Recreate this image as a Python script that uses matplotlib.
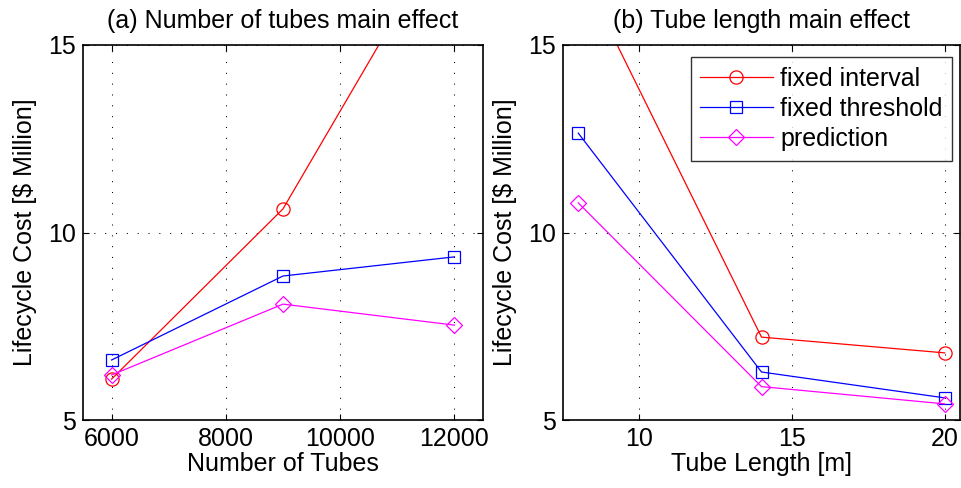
import matplotlib
matplotlib.use("Agg")
import matplotlib.pyplot as plt

plt.rcParams['font.family'] = ['Liberation Sans', 'DejaVu Sans']

# Data
tubes = [6000, 9000, 12000]
tubes_interval = [6.09, 10.63, 18.45]
tubes_threshold = [6.60, 8.84, 9.35]
tubes_prediction = [6.20, 8.09, 7.53]

lengths = [8, 14, 20]
len_interval = [17.1, 7.21, 6.79]
len_threshold = [12.65, 6.28, 5.59]
len_prediction = [10.79, 5.89, 5.43]

series_names = ['fixed interval', 'fixed threshold', 'prediction']
colors = ['#ff0000', '#0000ff', '#ff00ff']
markers = ['o', 's', 'D']
msizes = [9.5, 8, 8]

yticks = [5, 10, 15]
xticks_a = [6000, 8000, 10000, 12000]
xticks_b = [10, 15, 20]

FS = 18

W, H = 961, 488
fig = plt.figure(figsize=(W / 100, H / 100), dpi=100)
axa = fig.add_axes([83 / W, 68 / H, 400 / W, 375 / H])
axb = fig.add_axes([563 / W, 68 / H, 397 / W, 375 / H])

def style(ax):
    ax.set_ylim(5, 15)
    ax.set_yticks(yticks)
    ax.grid(True, linestyle=(0, (1, 9.4)), color='black', linewidth=0.75)
    ax.tick_params(direction='in', length=4, width=0.8, labelsize=FS,
                   top=True, right=True, pad=5)
    for s in ax.spines.values():
        s.set_linewidth(1.2)
    ax.set_ylabel('Lifecycle Cost [$ Million]', fontsize=FS, labelpad=8)

def draw(ax, x, ys):
    for vals, c, m, ms, n in zip(ys, colors, markers, msizes, series_names):
        ax.plot(x, vals, color=c, marker=m, markersize=ms,
                markerfacecolor='none', markeredgecolor=c, linewidth=0.9,
                markeredgewidth=0.9, label=n)

draw(axa, tubes, [tubes_interval, tubes_threshold, tubes_prediction])
axa.set_xlim(5500, 12500)
axa.set_xticks(xticks_a)
style(axa)
axa.set_xlabel('Number of Tubes', fontsize=FS, labelpad=1)
axa.set_title('(a) Number of tubes main effect', fontsize=FS, pad=12)

draw(axb, lengths, [len_interval, len_threshold, len_prediction])
axb.set_xlim(7.5, 20.5)
axb.set_xticks(xticks_b)
style(axb)
axb.set_xlabel('Tube Length [m]', fontsize=FS, labelpad=1)
axb.set_title('(b) Tube length main effect', fontsize=FS, pad=12)

leg = axb.legend(loc='upper right', bbox_to_anchor=(0.98, 0.968), fontsize=FS,
                 frameon=True, fancybox=False, edgecolor='black',
                 handlelength=2.9, borderpad=0.38, labelspacing=0.25,
                 handletextpad=0.3, borderaxespad=0)
leg.get_frame().set_linewidth(1.0)

fig.savefig('out.png', dpi=100, facecolor='white')
